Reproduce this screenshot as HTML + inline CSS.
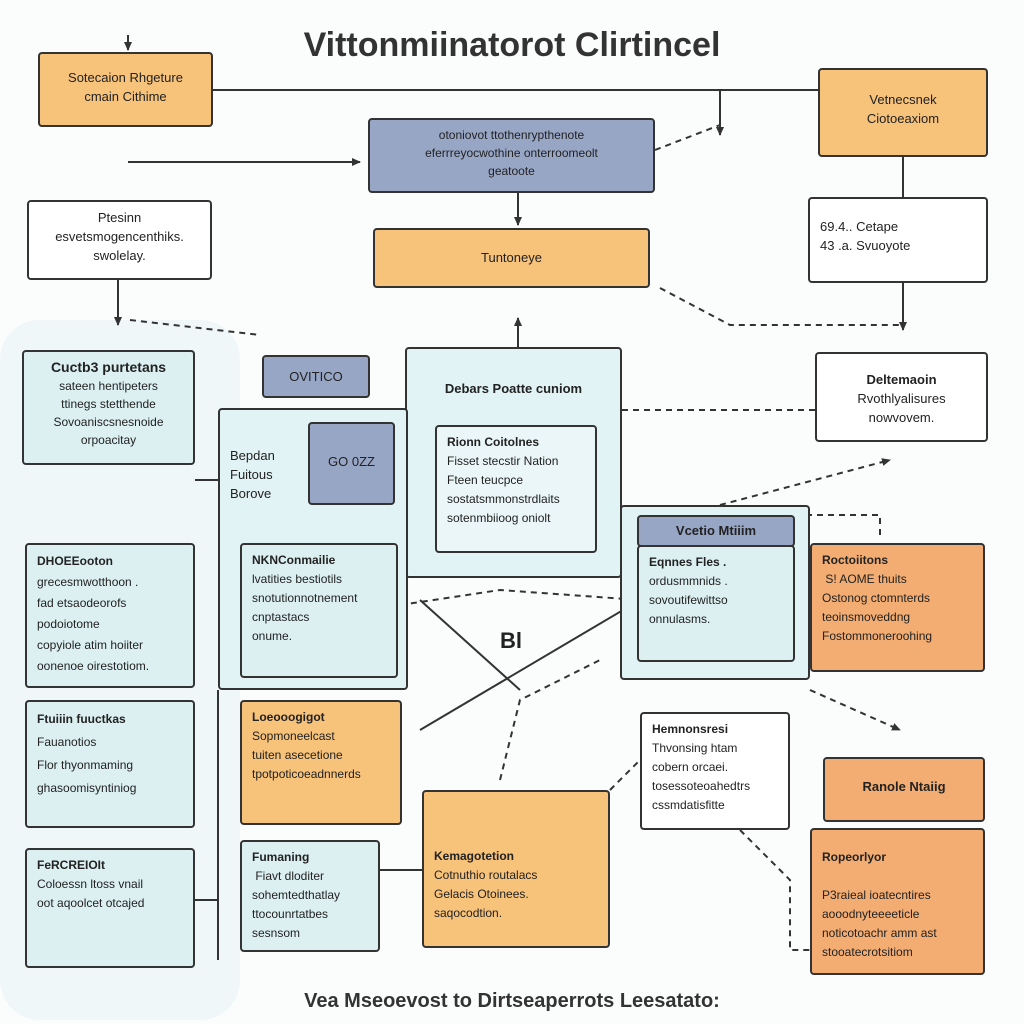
<!DOCTYPE html>
<html><head><meta charset="utf-8"><style>
body{margin:0;width:1024px;height:1024px;background:#fbfcfc;position:relative;overflow:hidden;font-family:"Liberation Sans",sans-serif;color:#222}
.b{position:absolute;box-sizing:border-box;border:2.5px solid #333;border-radius:4px;font-size:13px;line-height:19px;padding:6px 10px;text-align:center}
.o{background:#f7c27a}.w{background:#fff}.l{background:#dcf0f2}.g{background:#98a6c6}.oo{background:#f3ad72}
.t{font-weight:bold;font-size:14px}
.L{text-align:left}
svg{position:absolute;left:0;top:0}
</style></head><body>
<div style="position:absolute;left:0;right:0;top:26px;text-align:center;font-size:34px;font-weight:bold;color:#333">Vittonmiinatorot Clirtincel</div>
<div style="position:absolute;left:0;right:0;top:990px;text-align:center;font-size:20px;font-weight:bold;color:#333">Vea Mseoevost to Dirtseaperrots Leesatato:</div>
<div style="position:absolute;left:0;top:320px;width:240px;height:700px;background:#e3f2f5;opacity:.5;border-radius:40px"></div>
<svg width="1024" height="1024" fill="none" stroke="#333" stroke-width="2">
<defs><marker id="a" markerUnits="userSpaceOnUse" markerWidth="9" markerHeight="8" refX="8" refY="4" orient="auto"><path d="M0 0L9 4L0 8z" fill="#333" stroke="none"/></marker></defs>
<path d="M213 90H818"/><path d="M128 35V50" marker-end="url(#a)"/><path d="M128 162H360" marker-end="url(#a)"/><path d="M720 90V135" marker-end="url(#a)"/>
<path d="M518 193V225" marker-end="url(#a)"/><path d="M903 157V197"/><path d="M903 283V330" marker-end="url(#a)"/><path d="M118 280V325" marker-end="url(#a)"/>
<path d="M660 288L730 325H900" stroke-dasharray="6 5"/><path d="M655 150L720 125" stroke-dasharray="6 5"/>
<path d="M130 320L260 335" stroke-dasharray="6 5"/><path d="M518 450V318" marker-end="url(#a)"/>
<path d="M622 410H815" stroke-dasharray="6 5"/><path d="M720 505L890 460" stroke-dasharray="6 5" marker-end="url(#a)"/>
<path d="M218 690V960"/><path d="M195 480L218 480"/><path d="M330 515H640"/>
<path d="M400 605L500 590L640 600" stroke-dasharray="6 5"/><path d="M420 730L640 600"/><path d="M420 600L520 690"/>
<path d="M500 780L520 700L600 660" stroke-dasharray="6 5"/><path d="M810 690L900 730" stroke-dasharray="6 5" marker-end="url(#a)"/>
<path d="M830 805H950" marker-end="url(#a)"/><path d="M610 790L640 760" stroke-dasharray="6 5"/><path d="M740 830L790 880V950H810" stroke-dasharray="6 5"/>
<path d="M380 870H422"/><path d="M195 900H218"/><path d="M795 515H880V540" stroke-dasharray="6 5"/>
</svg>
<div class="b o" style="left:38px;top:52px;width:175px;height:75px;padding-top:14px">Sotecaion Rhgeture<br>cmain Cithime</div>
<div class="b o" style="left:818px;top:68px;width:170px;height:89px;padding-top:20px">Vetnecsnek<br>Ciotoeaxiom</div>
<div class="b g" style="left:368px;top:118px;width:287px;height:75px;font-size:12px;line-height:18px">otoniovot ttothenrypthenote<br>eferrreyocwothine onterroomeolt<br>geatoote</div>
<div class="b o" style="left:373px;top:228px;width:277px;height:60px;padding-top:18px">Tuntoneye</div>
<div class="b w" style="left:27px;top:200px;width:185px;height:80px">Ptesinn<br>esvetsmogencenthiks.<br>swolelay.</div>
<div class="b w L" style="left:808px;top:197px;width:180px;height:86px;padding-top:18px">69.4.. Cetape<br>43 .a. Svuoyote</div>
<div class="b l" style="left:22px;top:350px;width:173px;height:115px;font-size:12px;line-height:18px"><span class="t">Cuctb3 purtetans</span><br>sateen hentipeters<br>ttinegs stetthende<br>Sovoaniscsnesnoide<br>orpoacitay</div>
<div class="b g" style="left:262px;top:355px;width:108px;height:43px;padding-top:10px">OVITICO</div>
<div class="b l" style="left:405px;top:347px;width:217px;height:231px;padding-top:30px;background:#e2f3f5"><b>Debars Poatte cuniom</b></div>
<div class="b l" style="left:218px;top:408px;width:190px;height:282px;background:#e2f3f5;text-align:left;padding-top:36px">Bepdan<br>Fuitous<br>Borove</div>
<div class="b w" style="left:815px;top:352px;width:173px;height:90px;padding-top:16px"><b>Deltemaoin</b><br>Rvothlyalisures<br>nowvovem.</div>
<div class="b g" style="left:308px;top:422px;width:87px;height:83px;padding-top:28px">GO 0ZZ</div>
<div class="b w L" style="left:435px;top:425px;width:162px;height:128px;background:#eaf6f7;font-size:12px"><b>Rionn Coitolnes</b><br>Fisset stecstir Nation<br>Fteen teucpce<br>sostatsmmonstrdlaits<br>sotenmbiioog oniolt</div>
<div class="b l L" style="left:25px;top:543px;width:170px;height:145px;font-size:12px;line-height:21px"><b>DHOEEooton</b><br>grecesmwotthoon .<br>fad etsaodeorofs<br>podoiotome<br>copyiole atim hoiiter<br>oonenoe oirestotiom.</div>
<div class="b l L" style="left:240px;top:543px;width:158px;height:135px;font-size:12px"><b>NKNConmailie</b><br>lvatities bestiotils<br>snotutionnotnement<br>cnptastacs<br>onume.</div>
<div class="b l" style="left:620px;top:505px;width:190px;height:175px;background:#e2f3f5"></div>
<div class="b g" style="left:637px;top:515px;width:158px;height:32px;padding-top:4px"><b>Vcetio Mtiiim</b></div>
<div class="b l L" style="left:637px;top:545px;width:158px;height:117px;font-size:12px"><b>Eqnnes Fles .</b><br>ordusmmnids .<br>sovoutifewittso<br>onnulasms.</div>
<div class="b oo L" style="left:810px;top:543px;width:175px;height:129px;font-size:12px"><b>Roctoiitons</b><br>&nbsp;S! AOME thuits<br>Ostonog ctomnterds<br>teoinsmoveddng<br>Fostommoneroohing</div>
<div style="position:absolute;left:500px;top:628px;font-size:22px;font-weight:bold">Bl</div>
<div class="b l L" style="left:25px;top:700px;width:170px;height:128px;font-size:12px;line-height:23px"><b>Ftuiiin fuuctkas</b><br>Fauanotios<br>Flor thyonmaming<br>ghasoomisyntiniog</div>
<div class="b o L" style="left:240px;top:700px;width:162px;height:125px;font-size:12px"><b>Loeooogigot</b><br>Sopmoneelcast<br>tuiten asecetione<br>tpotpoticoeadnnerds</div>
<div class="b w L" style="left:640px;top:712px;width:150px;height:118px;font-size:12px"><b>Hemnonsresi</b><br>Thvonsing htam<br>cobern orcaei.<br>tosessoteoahedtrs<br>cssmdatisfitte</div>
<div class="b oo" style="left:823px;top:757px;width:162px;height:65px;padding-top:18px"><b>Ranole Ntaiig</b></div>
<div class="b l L" style="left:25px;top:848px;width:170px;height:120px;font-size:12px"><b>FeRCREIOIt</b><br>Coloessn ltoss vnail<br>oot aqoolcet otcajed</div>
<div class="b l L" style="left:240px;top:840px;width:140px;height:112px;font-size:12px"><b>Fumaning</b><br>&nbsp;Fiavt dloditer<br>sohemtedthatlay<br>ttocounrtatbes<br>sesnsom</div>
<div class="b o L" style="left:422px;top:790px;width:188px;height:158px;padding-top:55px;font-size:12px"><b>Kemagotetion</b><br>Cotnuthio routalacs<br>Gelacis Otoinees.<br>saqocodtion.</div>
<div class="b oo L" style="left:810px;top:828px;width:175px;height:147px;font-size:12px;padding-top:18px"><b>Ropeorlyor</b><br><br>P3raieal ioatecntires<br>aooodnyteeeeticle<br>noticotoachr amm ast<br>stooatecrotsitiom</div>
</body></html>
